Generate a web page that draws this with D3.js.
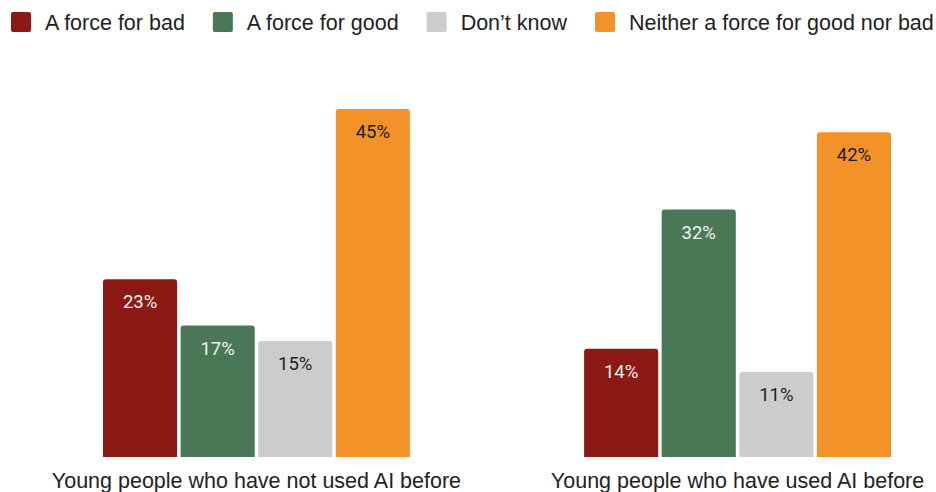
<!DOCTYPE html>
<html>
<head>
<meta charset="utf-8">
<script src="https://cdn.jsdelivr.net/npm/d3@7"></script>
<style>
  body { margin: 0; background: #fff; }
  text { font-family: "Liberation Sans", Arial, sans-serif; }
  text.val { font-family: Roboto, "Noto Sans", sans-serif; }
</style>
</head>
<body>
<div id="chart"></div>
<script>
// ... data
const groups = ['Young people who have not used AI before', 'Young people who have used AI before'];
const series = ['A force for bad', 'A force for good', 'Don\u2019t know', 'Neither a force for good nor bad'];
const colors = ['#8b1a15', '#4a7856', '#cccccc', '#f29229'];
const labelColors = ['#f2f2f2', '#f2f2f2', '#222222', '#1a1a1a'];
const notUsed = [23, 17, 15, 45];
const used = [14, 32, 11, 42];
const values = [notUsed, used];

const width = 936;
const height = 492;
const baseline = 457;

const svg = d3.select('#chart').append('svg')
    .attr('width', width)
    .attr('height', height);

const x0 = d3.scaleBand()
    .domain(groups)
    .range([103, 891])
    .paddingInner(0.362)
    .paddingOuter(0);

const x1 = d3.scaleBand()
    .domain(series)
    .range([0, x0.bandwidth()])
    .paddingInner(0.045)
    .paddingOuter(0);

const y = d3.scaleLinear()
    .domain([0, 45])
    .range([baseline, 109]);

// bar with rounded top corners only
function barPath(x, yTop, w, yBottom, r) {
    return 'M' + x + ',' + yBottom +
        'V' + (yTop + r) +
        'Q' + x + ',' + yTop + ' ' + (x + r) + ',' + yTop +
        'H' + (x + w - r) +
        'Q' + (x + w) + ',' + yTop + ' ' + (x + w) + ',' + (yTop + r) +
        'V' + yBottom + 'Z';
}

// ... bars
const g = svg.selectAll('g.group')
    .data(groups)
    .enter().append('g')
    .attr('class', 'group')
    .attr('transform', d => 'translate(' + x0(d) + ',0)');

g.selectAll('path')
    .data((d, gi) => series.map((s, i) => ({ s: s, i: i, v: values[gi][i] })))
    .enter().append('path')
    .attr('d', d => barPath(x1(d.s), y(d.v), x1.bandwidth(), y(0), 3))
    .attr('fill', d => colors[d.i]);

g.selectAll('text.val')
    .data((d, gi) => series.map((s, i) => ({ s: s, i: i, v: values[gi][i] })))
    .enter().append('text')
    .attr('class', 'val')
    .attr('x', d => x1(d.s) + x1.bandwidth() / 2)
    .attr('y', d => y(d.v) + 29)
    .attr('text-anchor', 'middle')
    .attr('font-size', 18.5)
    .attr('fill', d => labelColors[d.i])
    .text(d => d.v + '%');

// ... category labels
svg.selectAll('text.cat')
    .data(groups)
    .enter().append('text')
    .attr('class', 'cat')
    .attr('x', d => x0(d) + x0.bandwidth() / 2)
    .attr('y', 488)
    .attr('text-anchor', 'middle')
    .attr('font-size', 21.5)
    .attr('fill', '#222')
    .text(d => d);

// ... legend
const legend = svg.append('g');
let lx = 11;
series.forEach((s, i) => {
    legend.append('rect')
        .attr('x', lx)
        .attr('y', 12)
        .attr('width', 20)
        .attr('height', 20)
        .attr('rx', 2)
        .attr('fill', colors[i]);
    const t = legend.append('text')
        .attr('x', lx + 34)
        .attr('y', 30)
        .attr('font-size', 21.5)
        .attr('fill', '#222')
        .text(s);
    lx = lx + 34 + t.node().getComputedTextLength() + 28;
});
</script>
</body>
</html>
